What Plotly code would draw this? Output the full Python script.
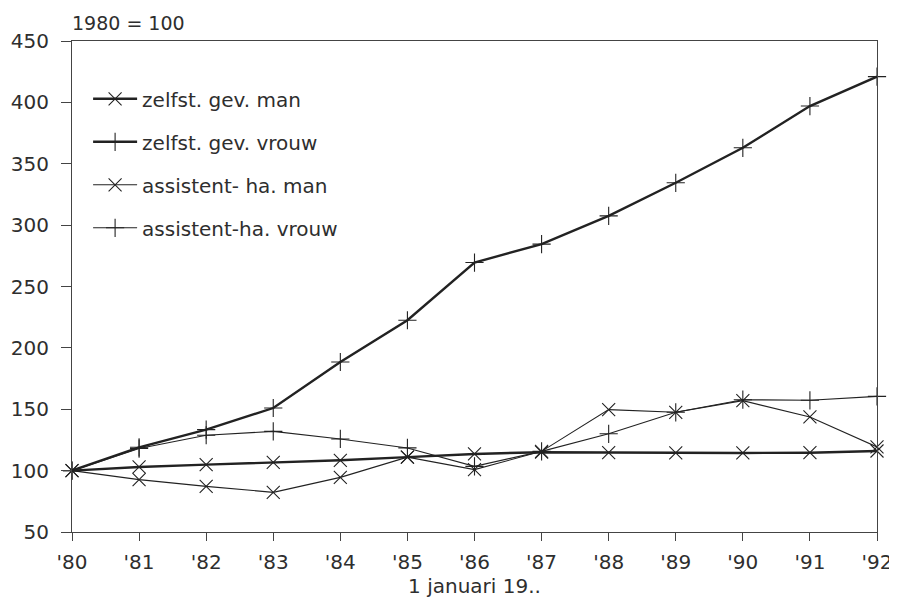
import plotly.graph_objects as go

# ---- Data (index 1980 = 100) ----
years = [1980, 1981, 1982, 1983, 1984, 1985, 1986, 1987, 1988, 1989, 1990, 1991, 1992]
tick_labels = ["'80", "'81", "'82", "'83", "'84", "'85", "'86", "'87", "'88", "'89", "'90", "'91", "'92"]

zelfst_man = [100, 103, 104.9, 106.8, 108.4, 111, 113.6, 115, 114.6, 114.4, 114.4, 114.6, 116]
zelfst_vrouw = [100, 119, 133.4, 151, 188.5, 222.5, 269.5, 284.5, 307.5, 334.5, 363, 397, 421]
assist_man = [100, 92.7, 87.2, 82.3, 94.5, 111, 100.8, 115.7, 149.7, 147.5, 157, 143.7, 119.3]
assist_vrouw = [100, 118, 128.8, 132, 125.8, 118.5, 103.5, 115.7, 130, 147.5, 157.8, 157.3, 160.5]

INK = "#222222"
TEXT = "#2e2e2e"
FONT = "DejaVu Sans, Verdana, sans-serif"

series = [
    ("zelfst. gev. man", zelfst_man, "x-thin", 2.4),
    ("zelfst. gev. vrouw", zelfst_vrouw, "cross-thin", 2.4),
    ("assistent- ha. man", assist_man, "x-thin", 1.1),
    ("assistent-ha. vrouw", assist_vrouw, "cross-thin", 1.1),
]

fig = go.Figure()
for i, (name, vals, sym, width) in enumerate(series):
    fig.add_trace(go.Scatter(
        x=years, y=vals, name=name, mode="lines+markers",
        line=dict(color=INK, width=width),
        marker=dict(symbol=sym, size=13, line=dict(color=INK, width=1.1)),
        legendgroup=f"g{i}", cliponaxis=False,
    ))

# page body adds an 8px margin, so the figure is sized 8px smaller
fig.update_layout(
    width=889, height=597,
    plot_bgcolor="white", paper_bgcolor="white",
    margin=dict(l=64, r=20, t=33, b=73),
    font=dict(family=FONT, size=20, color=TEXT),
    legend=dict(
        x=0.02, y=0.922, xanchor="left", yanchor="top",
        font=dict(size=20, color=TEXT),
        tracegroupgap=14, bgcolor="rgba(0,0,0,0)", itemwidth=44,
    ),
    annotations=[
        dict(text="1980 = 100", xref="paper", yref="paper", x=0, y=1,
             xanchor="left", yanchor="bottom", yshift=5, xshift=-2,
             showarrow=False, font=dict(size=19, color=TEXT)),
    ],
)
fig.update_xaxes(
    range=[1980, 1992], tickvals=years, ticktext=tick_labels,
    showgrid=False, zeroline=False, automargin=False,
    showline=True, linecolor="#444444", linewidth=1, mirror=True,
    ticks="outside", ticklen=8, tickcolor="#444444",
    ticklabelstandoff=4,
    title=dict(text="1 januari 19..", font=dict(size=20), standoff=2),
)
fig.update_yaxes(
    range=[50, 450], dtick=50,
    showgrid=False, zeroline=False, automargin=False,
    showline=True, linecolor="#444444", linewidth=1, mirror=True,
    ticks="outside", ticklen=10, tickcolor="#444444",
    ticklabelstandoff=8,
)

fig.write_html("out.html")
